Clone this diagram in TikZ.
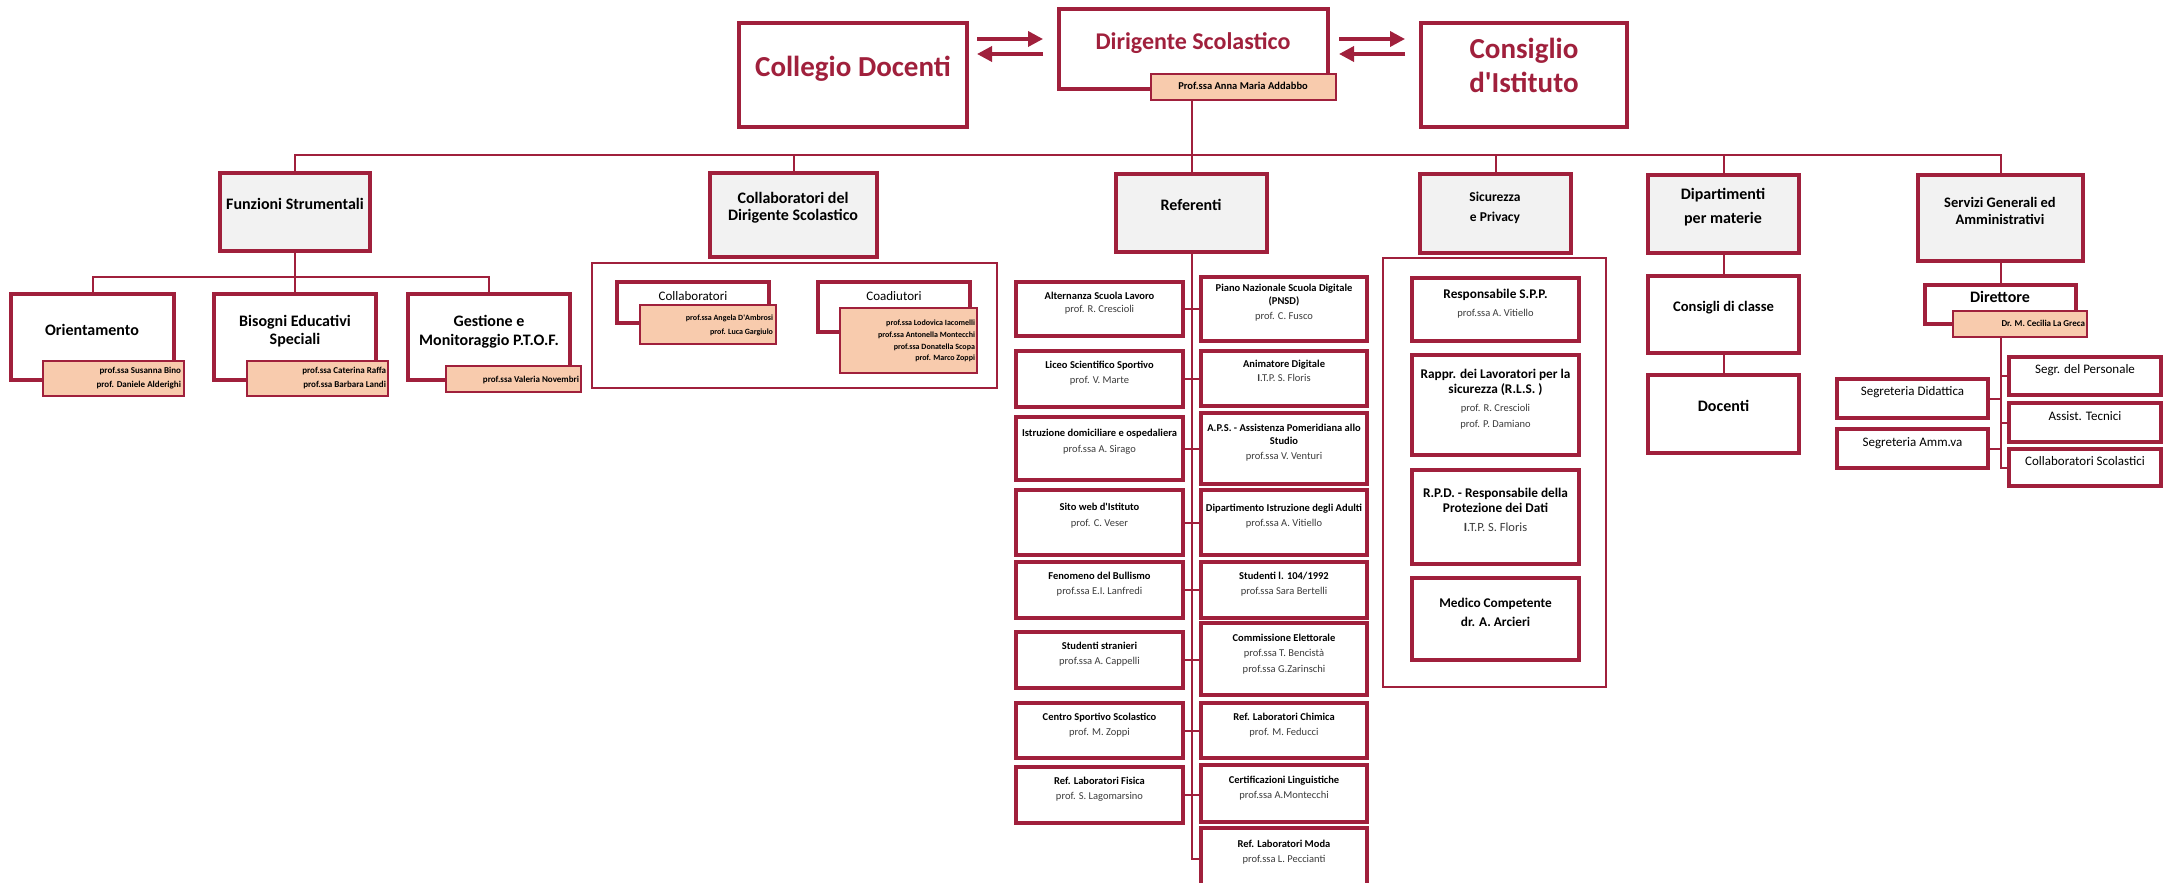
\documentclass[tikz,border=0pt]{standalone}
\usepackage{fontspec}
\setmainfont{Carlito}
\usetikzlibrary{arrows.meta}
\definecolor{dred}{RGB}{160,32,60}
\definecolor{peach}{RGB}{248,203,173}
\definecolor{lgray}{RGB}{242,242,242}
\definecolor{nmgray}{RGB}{60,60,60}
\newcommand{\fsz}[1]{\fontsize{#1}{#1}\selectfont}
\newcommand{\bx}[6]{\node[#2,minimum width={(#5-#3)*1pt},minimum height={(#6-#4)*1pt}] (#1) at ({(#3+#5)/2},{(#4+#6)/2}) {};}
\newcommand{\tx}[5]{\node[#2] (#1) at (#3,#4) {#5};}
\tikzset{
 main/.style={draw=dred,line width=3.5pt,fill=white,inner sep=0pt,outer sep=0pt},
 hdr/.style={main,fill=lgray},
 pinkb/.style={draw=dred,line width=1.8pt,fill=peach,inner sep=0pt,outer sep=0pt},
 cont/.style={draw=dred,line width=1.8pt,inner sep=0pt,outer sep=0pt},
 conn/.style={draw=dred,line width=2pt},
 arr/.style={draw=dred,line width=3.5pt,-{Triangle[length=15pt,width=15pt]}},
 tt/.style={anchor=mid,inner sep=0pt,outer sep=0pt,text=black},
 bigt/.style={tt,text=dred,font=\fsz{29}\bfseries},
 dirtt/.style={tt,text=dred,font=\fsz{24}\bfseries},
 h2/.style={tt,font=\fsz{16}\bfseries},
 h2s/.style={tt,font=\fsz{13.5}\bfseries},
 h2m/.style={tt,font=\fsz{14.5}\bfseries},
 pk/.style={tt,anchor=mid east,font=\fsz{9}\bfseries,text=black},
 pks/.style={tt,anchor=mid east,font=\fsz{8}\bfseries,text=black},
 rt/.style={tt,font=\fsz{10.5}\bfseries},
 rn/.style={tt,font=\fsz{10.5},text=nmgray},
 st/.style={tt,font=\fsz{13.3}\bfseries},
 reg/.style={tt,font=\fsz{13}},
}
\begin{document}
\begin{tikzpicture}[x=1pt,y=-1pt]
\useasboundingbox (0,0) rectangle (2172,883);
\clip (0,0) rectangle (2172,883);
% ---------- top row ----------
\bx{coll}{main}{739}{23}{967}{127}
\tx{collt}{bigt}{853}{74}{Collegio Docenti}
\bx{dir}{main}{1059}{9}{1328}{89}
\tx{dirtx}{dirtt}{1193}{47}{Dirigente Scolastico}
\bx{dirp}{pinkb}{1151}{74}{1336}{100}
\tx{dirpt}{tt,font=\fsz{10.5}\bfseries}{1243}{87}{Prof.ssa Anna Maria Addabbo}
\bx{cons}{main}{1421}{23}{1627}{127}
\tx{cons1}{bigt}{1524}{56}{Consiglio}
\tx{cons2}{bigt}{1524}{90}{d\textquotesingle Istituto}
\coordinate (a1s) at (977,39);  \coordinate (a1e) at (1043,39);
\coordinate (a2s) at (1043,54); \coordinate (a2e) at (977,54);
\coordinate (a3s) at (1339,39); \coordinate (a3e) at (1405,39);
\coordinate (a4s) at (1405,54); \coordinate (a4e) at (1339,54);
\draw[arr] (a1s) -- (a1e);
\draw[arr] (a2s) -- (a2e);
\draw[arr] (a3s) -- (a3e);
\draw[arr] (a4s) -- (a4e);
% ---------- level 2 ----------
\coordinate (bar) at (1193,155);
\bx{fs}{hdr}{220}{173}{370}{251}
\bx{cd}{hdr}{710}{173}{877}{257}
\bx{ref}{hdr}{1116}{174}{1267}{252}
\bx{sic}{hdr}{1420}{174}{1571}{253}
\bx{dip}{hdr}{1648}{175}{1799}{253}
\bx{sg}{hdr}{1918}{175}{2083}{261}
\draw[conn] (dirp.south -| ref.north) -- (ref.north);
\draw[conn] (fs.north) -- (fs.north |- bar) -- (sg.north |- bar) -- (sg.north);
\draw[conn] (cd.north) -- (cd.north |- bar);
\draw[conn] (sic.north) -- (sic.north |- bar);
\draw[conn] (dip.north) -- (dip.north |- bar);
\tx{fst}{h2}{295}{207}{Funzioni Strumentali}
\tx{cdt1}{h2}{793}{201}{Collaboratori del}
\tx{cdt2}{h2}{793}{218}{Dirigente Scolastico}
\tx{reft}{h2}{1191}{208}{Referenti}
\tx{sict1}{h2s}{1495}{199}{Sicurezza}
\tx{sict2}{h2s}{1495}{219}{e Privacy}
\tx{dipt1}{h2}{1723}{197}{Dipartimenti}
\tx{dipt2}{h2}{1723}{221}{per materie}
\tx{sgt1}{h2m}{2000}{205}{Servizi Generali ed}
\tx{sgt2}{h2m}{2000}{222}{Amministrativi}
% ---------- Funzioni Strumentali ----------
\coordinate (fsb) at (295,277);
\bx{ori}{main}{11}{294}{174}{380}
\bx{orip}{pinkb}{43}{361}{184}{396}
\bx{bes}{main}{214}{294}{376}{380}
\bx{besp}{pinkb}{247}{361}{388}{396}
\bx{ges}{main}{408}{294}{570}{380}
\bx{gesp}{pinkb}{446}{366}{581}{392}
\draw[conn] (fs.south) -- (bes.north);
\draw[conn] (ori.north) |- (fsb) -| (ges.north);
\tx{orit}{h2}{92}{333}{Orientamento}
\tx{bes1}{h2}{295}{324}{Bisogni Educativi}
\tx{bes2}{h2}{295}{342}{Speciali}
\tx{ges1}{h2}{489}{324}{Gestione e}
\tx{ges2}{h2}{489}{343}{Monitoraggio P.T.O.F.}
\tx{orin1}{pk}{181}{371}{prof.ssa Susanna Bino}
\tx{orin2}{pk}{181}{385}{prof. Daniele Alderighi}
\tx{besn1}{pk}{386}{371}{prof.ssa Caterina Raffa}
\tx{besn2}{pk}{386}{385}{prof.ssa Barbara Landi}
\tx{gesn1}{pk}{579}{380}{prof.ssa Valeria Novembri}
% ---------- Collaboratori del DS ----------
\bx{cdc}{cont}{592}{263}{997}{388}
\bx{col}{main}{617}{282}{769}{323}
\tx{colt}{reg}{693}{298}{Collaboratori}
\bx{colp}{pinkb}{640}{305}{776}{344}
\tx{coln1}{pks}{773}{318}{prof.ssa Angela D\textquotesingle Ambrosi}
\tx{coln2}{pks}{773}{332}{prof. Luca Gargiulo}
\bx{coa}{main}{818}{282}{970}{332}
\tx{coat}{reg}{894}{298}{Coadiutori}
\bx{coap}{pinkb}{840}{308}{977}{373}
\tx{coan1}{pks}{975}{323}{prof.ssa Lodovica Iacomelli}
\tx{coan2}{pks}{975}{335}{prof.ssa Antonella Montecchi}
\tx{coan3}{pks}{975}{347}{prof.ssa Donatella Scopa}
\tx{coan4}{pks}{975}{358}{prof. Marco Zoppi}
% ---------- Referenti ----------
\bx{alt}{main}{1016}{282}{1183}{336}
\bx{pnsd}{main}{1201}{277}{1367}{341}
\bx{lic}{main}{1016}{351}{1183}{407}
\bx{ani}{main}{1201}{351}{1367}{406}
\bx{ist}{main}{1016}{417}{1183}{480}
\bx{aps}{main}{1201}{413}{1367}{484}
\bx{sito}{main}{1016}{490}{1183}{555}
\bx{dia}{main}{1201}{490}{1367}{555}
\bx{bul}{main}{1016}{562}{1183}{618}
\bx{stu}{main}{1201}{562}{1367}{618}
\bx{stra}{main}{1016}{632}{1183}{688}
\bx{com}{main}{1201}{623}{1367}{695}
\bx{css}{main}{1016}{703}{1183}{758}
\bx{chi}{main}{1201}{703}{1367}{758}
\bx{fis}{main}{1016}{767}{1183}{823}
\bx{cert}{main}{1201}{765}{1367}{822}
\bx{moda}{main}{1201}{828}{1367}{890}
\draw[conn] (ref.south) |- (moda.west);
\draw[conn] (alt.east) -- (alt.east -| pnsd.west);
\draw[conn] (lic.east) -- (lic.east -| ani.west);
\draw[conn] (ist.east) -- (ist.east -| aps.west);
\draw[conn] (sito.east) -- (sito.east -| dia.west);
\draw[conn] (bul.east) -- (bul.east -| stu.west);
\draw[conn] (stra.east) -- (stra.east -| com.west);
\draw[conn] (css.east) -- (css.east -| chi.west);
\draw[conn] (fis.east) -- (fis.east -| cert.west);
\tx{alt1}{rt}{1099.5}{297}{Alternanza Scuola Lavoro}
\tx{alt2}{rn}{1099.5}{310}{prof. R. Crescioli}
\tx{pnsd1}{rt}{1284}{289}{Piano Nazionale Scuola Digitale}
\tx{pnsd2}{rt}{1284}{302}{(PNSD)}
\tx{pnsd3}{rn}{1284}{317}{prof. C. Fusco}
\tx{lic1}{rt}{1099.5}{366}{Liceo Scientifico Sportivo}
\tx{lic2}{rn}{1099.5}{381}{prof. V. Marte}
\tx{ani1}{rt}{1284}{365}{Animatore Digitale}
\tx{ani2}{rn}{1284}{379}{\textbf{I}.T.P. S. Floris}
\tx{ist1}{rt}{1099.5}{434}{Istruzione domiciliare e ospedaliera}
\tx{ist2}{rn}{1099.5}{450}{prof.ssa A. Sirago}
\tx{aps1}{rt}{1284}{429}{A.P.S. - Assistenza Pomeridiana allo}
\tx{aps2}{rt}{1284}{442}{Studio}
\tx{aps3}{rn}{1284}{457}{prof.ssa V. Venturi}
\tx{sito1}{rt}{1099.5}{508}{Sito web d\textquotesingle Istituto}
\tx{sito2}{rn}{1099.5}{524}{prof. C. Veser}
\tx{dia1}{rt}{1284}{509}{Dipartimento Istruzione degli Adulti}
\tx{dia2}{rn}{1284}{524}{prof.ssa A. Vitiello}
\tx{bul1}{rt}{1099.5}{577}{Fenomeno del Bullismo}
\tx{bul2}{rn}{1099.5}{592}{prof.ssa E.I. Lanfredi}
\tx{stu1}{rt}{1284}{577}{Studenti l. 104/1992}
\tx{stu2}{rn}{1284}{592}{prof.ssa Sara Bertelli}
\tx{stra1}{rt}{1099.5}{647}{Studenti stranieri}
\tx{stra2}{rn}{1099.5}{662}{prof.ssa A. Cappelli}
\tx{com1}{rt}{1284}{639}{Commissione Elettorale}
\tx{com2}{rn}{1284}{654}{prof.ssa T. Bencistà}
\tx{com3}{rn}{1284}{670}{prof.ssa G.Zarinschi}
\tx{css1}{rt}{1099.5}{718}{Centro Sportivo Scolastico}
\tx{css2}{rn}{1099.5}{733}{prof. M. Zoppi}
\tx{chi1}{rt}{1284}{718}{Ref. Laboratori Chimica}
\tx{chi2}{rn}{1284}{733}{prof. M. Feducci}
\tx{fis1}{rt}{1099.5}{782}{Ref. Laboratori Fisica}
\tx{fis2}{rn}{1099.5}{797}{prof. S. Lagomarsino}
\tx{cert1}{rt}{1284}{781}{Certificazioni Linguistiche}
\tx{cert2}{rn}{1284}{796}{prof.ssa A.Montecchi}
\tx{moda1}{rt}{1284}{845}{Ref. Laboratori Moda}
\tx{moda2}{rn}{1284}{860}{prof.ssa L. Peccianti}
% ---------- Sicurezza ----------
\bx{sicc}{cont}{1383}{258}{1606}{687}
\bx{rspp}{main}{1412}{278}{1579}{341}
\bx{rls}{main}{1412}{355}{1579}{455}
\bx{rpd}{main}{1412}{470}{1579}{564}
\bx{med}{main}{1412}{578}{1579}{660}
\tx{rspp1}{st}{1495.5}{296}{Responsabile S.P.P.}
\tx{rspp2}{rn}{1495.5}{314}{prof.ssa A. Vitiello}
\tx{rls1}{st}{1495.5}{376}{Rappr. dei Lavoratori per la}
\tx{rls2}{st}{1495.5}{391}{sicurezza (R.L.S. )}
\tx{rls3}{rn}{1495.5}{409}{prof. R. Crescioli}
\tx{rls4}{rn}{1495.5}{425}{prof. P. Damiano}
\tx{rpd1}{st}{1495.5}{495}{R.P.D. - Responsabile della}
\tx{rpd2}{st}{1495.5}{510}{Protezione dei Dati}
\tx{rpd3}{tt,font=\fsz{12.5},text=nmgray}{1495.5}{529}{\textbf{I}.T.P. S. Floris}
\tx{med1}{st}{1495.5}{605}{Medico Competente}
\tx{med2}{st}{1495.5}{624}{dr. A. Arcieri}
% ---------- Dipartimenti ----------
\bx{cdcl}{main}{1648}{276}{1799}{353}
\bx{doc}{main}{1648}{375}{1799}{453}
\draw[conn] (dip.south) -- (cdcl.north);
\draw[conn] (cdcl.south) -- (doc.north);
\tx{cdclt}{tt,font=\fsz{14.6}\bfseries}{1723.5}{309}{Consigli di classe}
\tx{doct}{h2}{1723.5}{409}{Docenti}
% ---------- Servizi ----------
\bx{dtt}{main}{1925}{285}{2076}{324}
\bx{dttp}{pinkb}{1953}{311}{2087}{337}
\bx{sper}{main}{2009}{357}{2161}{395}
\bx{sdid}{main}{1837}{379}{1988}{418}
\bx{ate}{main}{2009}{403}{2161}{442}
\bx{samm}{main}{1837}{429}{1988}{468}
\bx{csc}{main}{2009}{449}{2161}{486}
\draw[conn] (sg.south) -- (dtt.north);
\draw[conn] (dttp.south -| dtt.north) |- (csc.west);
\draw[conn] (sper.west) -- (sper.west -| dtt.north);
\draw[conn] (sdid.east) -- (sdid.east -| dtt.north);
\draw[conn] (ate.west) -- (ate.west -| dtt.north);
\draw[conn] (samm.east) -- (samm.east -| dtt.north);
\tx{dttt}{h2}{2000}{300}{Direttore}
\tx{dttn}{pk}{2085}{324}{Dr. M. Cecilia La Greca}
\tx{spert}{reg}{2085}{371}{Segr. del Personale}
\tx{sdidt}{reg}{1912.5}{393}{Segreteria Didattica}
\tx{atet}{reg}{2085}{418}{Assist. Tecnici}
\tx{sammt}{reg}{1912.5}{444}{Segreteria Amm.va}
\tx{csct}{reg}{2085}{463}{Collaboratori Scolastici}
\end{tikzpicture}
\end{document}
